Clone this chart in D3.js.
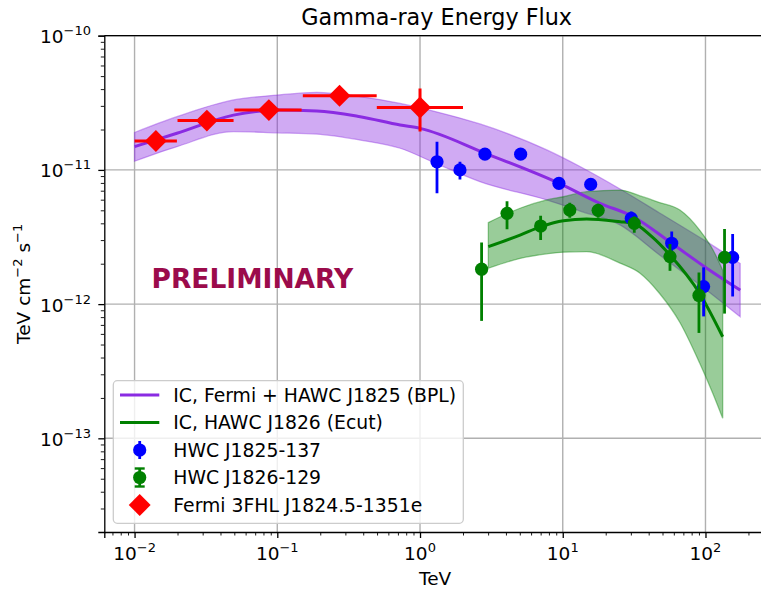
<!DOCTYPE html>
<html>
<head>
<meta charset="utf-8">
<script src="https://cdn.jsdelivr.net/npm/d3@7"></script>
<style>
  body { margin: 0; background: #fff; }
  text { font-family: "DejaVu Sans", sans-serif; fill: #000; }
</style>
</head>
<body>
<svg id="chart" width="761" height="589"></svg>
<script>
// ---- data (energy in TeV, flux in TeV cm^-2 s^-1) ----
const fermiE      = [0.0141, 0.0321, 0.0873, 0.273, 1.0];
const fermiElo    = [0.01, 0.02, 0.05, 0.151, 0.498];
const fermiEhi    = [0.0198, 0.0494, 0.148, 0.497, 2.0];
const fermiFlux   = [1.64e-11, 2.33e-11, 2.79e-11, 3.57e-11, 2.92e-11];
const fermiFluxLo = [1.56e-11, 2.23e-11, 2.68e-11, 3.05e-11, 1.93e-11];
const fermiFluxHi = [1.72e-11, 2.44e-11, 2.90e-11, 4.20e-11, 4.05e-11];

const j1825E      = [1.315, 1.905, 2.85, 5.07, 9.4, 15.7, 30.2, 58, 97, 155];
const j1825Flux   = [1.15e-11, 1.0e-11, 1.31e-11, 1.31e-11, 7.94e-12, 7.8e-12, 4.35e-12, 2.84e-12, 1.35e-12, 2.23e-12];
const j1825FluxLo = [6.7e-12, 8.5e-12, 1.22e-11, 1.22e-11, 7.4e-12, 7.3e-12, 3.9e-12, 2.4e-12, 8.1e-13, 1.14e-12];
const j1825FluxHi = [1.62e-11, 1.15e-11, 1.40e-11, 1.40e-11, 8.5e-12, 8.3e-12, 4.9e-12, 3.47e-12, 1.88e-12, 3.33e-12];

const j1826E      = [2.7, 4.07, 7.0, 11.2, 17.7, 31.7, 56.4, 90, 136];
const j1826Flux   = [1.82e-12, 4.75e-12, 3.82e-12, 5.02e-12, 5.0e-12, 4.0e-12, 2.26e-12, 1.16e-12, 2.23e-12];
const j1826FluxLo = [7.5e-13, 3.62e-12, 3.0e-12, 4.4e-12, 4.4e-12, 3.4e-12, 1.77e-12, 6.1e-13, 8.5e-13];
const j1826FluxHi = [2.88e-12, 5.84e-12, 4.56e-12, 5.7e-12, 5.6e-12, 4.5e-12, 2.8e-12, 1.72e-12, 3.63e-12];

// IC model, Fermi + HAWC J1825 (broken power law)
const bplE    = [0.01, 0.0198, 0.0493, 0.0993, 0.189, 0.381, 0.726, 1.0, 2.87, 9.46, 18.2, 31.2, 57.9, 102, 175];
const bplFlux = [1.49e-11, 1.875e-11, 2.56e-11, 2.79e-11, 2.75e-11, 2.49e-11, 2.16e-11, 2.04e-11, 1.33e-11, 7.94e-12, 5.64e-12, 4.48e-12, 2.84e-12, 1.85e-12, 1.27e-12];
const bplBandE  = [0.01, 0.0198, 0.0493, 0.0993, 0.189, 0.38, 0.726, 1.32, 2.63, 7.73, 13.2, 25.2, 47.7, 102, 175];
const bplBandHi = [1.9e-11, 2.49e-11, 3.32e-11, 3.61e-11, 3.78e-11, 3.52e-11, 3.13e-11, 2.7e-11, 2.2e-11, 1.41e-11, 1.06e-11, 7.21e-12, 4.78e-12, 2.92e-12, 2.01e-12];
const bplBandLo = [1.16e-11, 1.49e-11, 1.93e-11, 1.89e-11, 1.85e-11, 1.67e-11, 1.45e-11, 1.107e-11, 8.17e-12, 5.97e-12, 4.94e-12, 3.89e-12, 2.32e-12, 1.27e-12, 8.05e-13];

// IC model, HAWC J1826 (exponential cutoff)
const ecutE    = [3.01, 5.02, 7.05, 10.1, 14.7, 25.2, 31.2, 41.5, 56.4, 91, 132];
const ecutFlux = [2.68e-12, 3.27e-12, 3.78e-12, 4.18e-12, 4.3e-12, 4.11e-12, 4.0e-12, 3.22e-12, 2.32e-12, 1.2e-12, 5.71e-13];
const ecutBandE  = [3.01, 5.02, 7.73, 10.1, 14.7, 25.2, 34.8, 47.7, 66.2, 91, 113, 132];
const ecutBandHi = [4.05e-12, 5.18e-12, 5.97e-12, 6.31e-12, 6.88e-12, 7.08e-12, 6.4e-12, 5.71e-12, 5.02e-12, 3.56e-12, 2.53e-12, 1.79e-12];
const ecutBandLo = [1.85e-12, 2.19e-12, 2.37e-12, 2.44e-12, 2.46e-12, 2.02e-12, 1.7e-12, 1.2e-12, 7.3e-13, 3.64e-13, 2.14e-13, 1.41e-13];

const xTickValues = [1e-2, 1e-1, 1, 10, 100];
const xTickExps   = ["\u22122", "\u22121", "0", "1", "2"];
const yTickValues = [1e-13, 1e-12, 1e-11, 1e-10];
const yTickExps   = ["\u221213", "\u221212", "\u221211", "\u221210"];

const legendLabels = [
  "IC, Fermi + HAWC J1825 (BPL)",
  "IC, HAWC J1826 (Ecut)",
  "HWC J1825-137",
  "HWC J1826-129",
  "Fermi 3FHL J1824.5-1351e"
];

// ---- layout ----
const m = { left: 104.3, top: 35.7, right: 764, bottom: 532 };
const PURPLE = "#8a2be2", GREEN = "#008000", BLUE = "#0000ff", RED = "#ff0000";

const svg = d3.select("#chart");

const x = d3.scaleLog().domain([Math.pow(10, -2.212), Math.pow(10, 2.41)]).range([m.left, m.right]);
const y = d3.scaleLog().domain([Math.pow(10, -13.698), 1e-10]).range([m.bottom, m.top]);

function minorTicks(scale) {
  const [a, b] = scale.domain();
  const out = [];
  for (let e = Math.floor(Math.log10(a)); e <= Math.ceil(Math.log10(b)); e++)
    for (let k = 2; k <= 9; k++) {
      const v = k * Math.pow(10, e);
      if (v >= a && v <= b) out.push(v);
    }
  return out;
}

svg.append("defs").append("clipPath").attr("id", "plotclip")
  .append("rect").attr("x", m.left).attr("y", m.top)
  .attr("width", m.right - m.left).attr("height", m.bottom - m.top);

// grid
const grid = svg.append("g");
grid.selectAll(".gx").data(xTickValues).enter().append("line")
  .attr("x1", d => x(d)).attr("x2", d => x(d))
  .attr("y1", m.top).attr("y2", m.bottom)
  .attr("stroke", "#b0b0b0").attr("stroke-width", 1.4);
grid.selectAll(".gy").data(yTickValues).enter().append("line")
  .attr("x1", m.left).attr("x2", m.right)
  .attr("y1", d => y(d)).attr("y2", d => y(d))
  .attr("stroke", "#b0b0b0").attr("stroke-width", 1.4);

const plot = svg.append("g").attr("clip-path", "url(#plotclip)");

const band = (E, lo, hi) => d3.area()
  .x((d, i) => x(E[i])).y0((d, i) => y(lo[i])).y1((d, i) => y(hi[i]))
  .curve(d3.curveMonotoneX)(E);
const curve = (E, F) => d3.line()
  .x((d, i) => x(E[i])).y((d, i) => y(F[i]))
  .curve(d3.curveMonotoneX)(E);

plot.append("path").attr("d", band(bplBandE, bplBandLo, bplBandHi))
  .attr("fill", PURPLE).attr("fill-opacity", 0.4)
  .attr("stroke", PURPLE).attr("stroke-opacity", 0.4).attr("stroke-width", 1.3);
plot.append("path").attr("d", band(ecutBandE, ecutBandLo, ecutBandHi))
  .attr("fill", GREEN).attr("fill-opacity", 0.4)
  .attr("stroke", GREEN).attr("stroke-opacity", 0.4).attr("stroke-width", 1.3);
plot.append("path").attr("d", curve(bplE, bplFlux))
  .attr("fill", "none").attr("stroke", PURPLE).attr("stroke-width", 3);
plot.append("path").attr("d", curve(ecutE, ecutFlux))
  .attr("fill", "none").attr("stroke", GREEN).attr("stroke-width", 3);

function errorPoints(E, F, lo, hi, color) {
  const g = plot.append("g");
  g.selectAll("line").data(E).enter().append("line")
    .attr("x1", d => x(d)).attr("x2", d => x(d))
    .attr("y1", (d, i) => y(lo[i])).attr("y2", (d, i) => y(hi[i]))
    .attr("stroke", color).attr("stroke-width", 2.8);
  g.selectAll("circle").data(E).enter().append("circle")
    .attr("cx", d => x(d)).attr("cy", (d, i) => y(F[i]))
    .attr("r", 6.6).attr("fill", color);
}
errorPoints(j1825E, j1825Flux, j1825FluxLo, j1825FluxHi, BLUE);
errorPoints(j1826E, j1826Flux, j1826FluxLo, j1826FluxHi, GREEN);

const diamond = d3.symbol().type(d3.symbolSquare).size(240);
const fg = plot.append("g");
fg.selectAll(".xe").data(fermiE).enter().append("line")
  .attr("x1", (d, i) => x(fermiElo[i])).attr("x2", (d, i) => x(fermiEhi[i]))
  .attr("y1", (d, i) => y(fermiFlux[i])).attr("y2", (d, i) => y(fermiFlux[i]))
  .attr("stroke", RED).attr("stroke-width", 3);
fg.selectAll(".ye").data(fermiE).enter().append("line")
  .attr("x1", d => x(d)).attr("x2", d => x(d))
  .attr("y1", (d, i) => y(fermiFluxLo[i])).attr("y2", (d, i) => y(fermiFluxHi[i]))
  .attr("stroke", RED).attr("stroke-width", 3);
fg.selectAll("path").data(fermiE).enter().append("path")
  .attr("d", diamond)
  .attr("transform", (d, i) => `translate(${x(d)},${y(fermiFlux[i])}) rotate(45)`)
  .attr("fill", RED);

// axes
const xAxis = svg.append("g").attr("transform", `translate(0,${m.bottom})`)
  .call(d3.axisBottom(x).tickValues(xTickValues).tickSize(6).tickFormat(""));
svg.append("g").attr("transform", `translate(0,${m.bottom})`)
  .call(d3.axisBottom(x).tickValues(minorTicks(x)).tickSize(3.5).tickFormat(""))
  .call(g => g.select(".domain").remove())
  .selectAll("line").attr("stroke-width", 0.9);
const yAxis = svg.append("g").attr("transform", `translate(${m.left},0)`)
  .call(d3.axisLeft(y).tickValues(yTickValues).tickSize(6).tickFormat(""));
svg.append("g").attr("transform", `translate(${m.left},0)`)
  .call(d3.axisLeft(y).tickValues(minorTicks(y)).tickSize(3.5).tickFormat(""))
  .call(g => g.select(".domain").remove())
  .selectAll("line").attr("stroke-width", 0.9);
[xAxis, yAxis].forEach(a => {
  a.select(".domain").attr("stroke-width", 1.3);
  a.selectAll(".tick line").attr("stroke-width", 1.3);
});
svg.append("line").attr("x1", m.left).attr("x2", m.right)
  .attr("y1", m.top).attr("y2", m.top).attr("stroke", "#000").attr("stroke-width", 1.3);

// tick labels
xTickValues.forEach((v, i) => {
  const t = svg.append("text").attr("x", x(v)).attr("y", 560)
    .attr("text-anchor", "middle").attr("font-size", 18.5);
  t.append("tspan").text("10");
  t.append("tspan").attr("dy", -8).attr("font-size", 13).text(xTickExps[i]);
});
yTickValues.forEach((v, i) => {
  const t = svg.append("text").attr("x", 91).attr("y", y(v) + 7.5)
    .attr("text-anchor", "end").attr("font-size", 18.5);
  t.append("tspan").text("10");
  t.append("tspan").attr("dy", -8).attr("font-size", 13).text(yTickExps[i]);
});

// titles
svg.append("text").attr("x", 436.7).attr("y", 25)
  .attr("text-anchor", "middle").attr("font-size", 22.3).text("Gamma-ray Energy Flux");
svg.append("text").attr("x", (m.left + m.right) / 2 + 1).attr("y", 585)
  .attr("text-anchor", "middle").attr("font-size", 18.5).text("TeV");
const yl = svg.append("text").attr("transform", `translate(29.5,${(m.top + m.bottom) / 2}) rotate(-90)`)
  .attr("text-anchor", "middle").attr("font-size", 18.5);
yl.append("tspan").text("TeV cm");
yl.append("tspan").attr("dy", -8).attr("font-size", 13).text("\u22122");
yl.append("tspan").attr("dy", 8).text(" s");
yl.append("tspan").attr("dy", -8).attr("font-size", 13).text("\u22121");

svg.append("text").attr("x", 151.5).attr("y", 288.3)
  .attr("font-size", 26.5).attr("font-weight", "bold")
  .style("fill", "#9b0b4b").text("PRELIMINARY");

// legend
const lg = svg.append("g");
lg.append("rect").attr("x", 113.3).attr("y", 380.7).attr("width", 350).attr("height", 142.6)
  .attr("rx", 4).attr("fill", "#fff").attr("fill-opacity", 0.8)
  .attr("stroke", "#cccccc").attr("stroke-width", 1.3);
const rowY = d3.range(5).map(i => 395 + i * 27.5);
const sx0 = 120, sx1 = 159.3, sxc = 139.7;
lg.append("line").attr("x1", sx0).attr("x2", sx1).attr("y1", rowY[0]).attr("y2", rowY[0])
  .attr("stroke", PURPLE).attr("stroke-width", 3);
lg.append("line").attr("x1", sx0).attr("x2", sx1).attr("y1", rowY[1]).attr("y2", rowY[1])
  .attr("stroke", GREEN).attr("stroke-width", 3);
lg.append("line").attr("x1", sxc).attr("x2", sxc).attr("y1", rowY[2] - 9).attr("y2", rowY[2] + 9)
  .attr("stroke", BLUE).attr("stroke-width", 2.8);
lg.append("circle").attr("cx", sxc).attr("cy", rowY[2]).attr("r", 6.6).attr("fill", BLUE);
lg.append("line").attr("x1", sxc).attr("x2", sxc).attr("y1", rowY[3] - 9).attr("y2", rowY[3] + 9)
  .attr("stroke", GREEN).attr("stroke-width", 2.8);
[-9, 9].forEach(dy => lg.append("line").attr("x1", sxc - 5).attr("x2", sxc + 5)
  .attr("y1", rowY[3] + dy).attr("y2", rowY[3] + dy).attr("stroke", GREEN).attr("stroke-width", 2.4));
lg.append("circle").attr("cx", sxc).attr("cy", rowY[3]).attr("r", 6.6).attr("fill", GREEN);
lg.append("path").attr("d", diamond)
  .attr("transform", `translate(${sxc},${rowY[4]}) rotate(45)`).attr("fill", RED);
lg.selectAll("text").data(legendLabels).enter().append("text")
  .attr("x", 173.3).attr("y", (d, i) => rowY[i] + 6.8)
  .attr("font-size", 18.8).text(d => d);
</script>
</body>
</html>
